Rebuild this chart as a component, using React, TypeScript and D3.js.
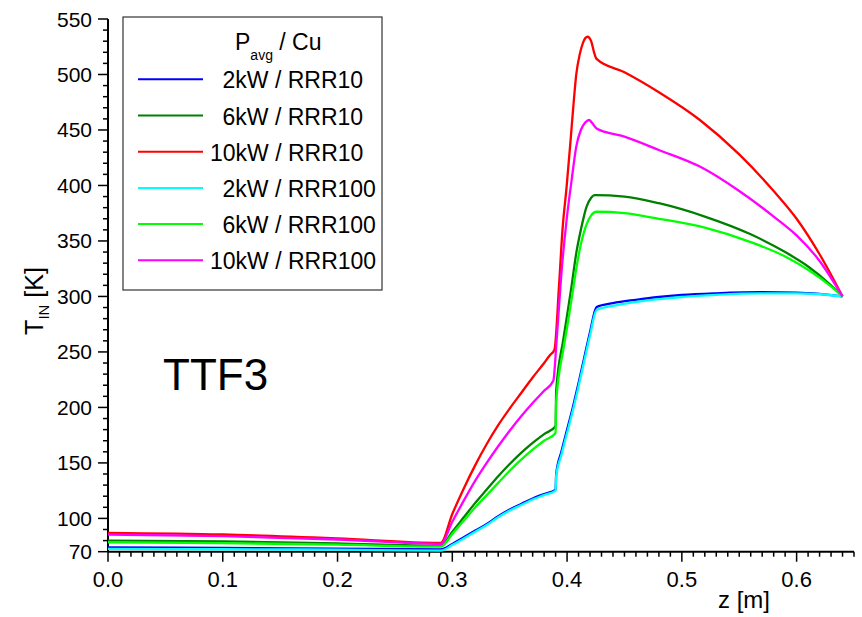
import * as d3 from 'd3';
import React, { useEffect, useRef } from 'react';

// series: [z (m), T_IN (K)]
const rrr10_2kW: [number, number][] = [
  [0, 73.8], [0.1, 73.5], [0.2, 72.8], [0.29, 72], [0.30, 77], [0.31, 83], [0.32, 89], [0.33, 95],
  [0.34, 102], [0.35, 108], [0.36, 113], [0.37, 118], [0.38, 122], [0.39, 126], [0.3905, 140],
  [0.395, 160], [0.40, 180], [0.405, 200], [0.41, 222], [0.415, 245], [0.42, 268], [0.4257, 290.5],
  [0.44, 294], [0.46, 297], [0.48, 299.5], [0.50, 301.3], [0.53, 302.8], [0.57, 303.8], [0.60, 303.5],
  [0.62, 302.3], [0.64, 300],
];
const rrr10_6kW: [number, number][] = [
  [0, 80], [0.1, 79.3], [0.2, 77.5], [0.29, 75.5], [0.30, 88], [0.31, 101], [0.32, 114], [0.33, 126],
  [0.34, 138], [0.35, 149], [0.36, 159], [0.37, 168], [0.38, 176], [0.39, 183], [0.3905, 215],
  [0.3967, 261], [0.40, 283], [0.404, 310], [0.408, 339], [0.412, 360], [0.417, 381], [0.421, 389],
  [0.424, 391.3], [0.45, 390], [0.48, 384], [0.52, 372], [0.56, 356], [0.59, 340], [0.61, 327],
  [0.63, 310], [0.64, 300],
];
const rrr10_10kW: [number, number][] = [
  [0, 87], [0.1, 85.5], [0.2, 82], [0.29, 78], [0.30, 104], [0.31, 127], [0.32, 148], [0.33, 167],
  [0.34, 184], [0.35, 199], [0.36, 213], [0.37, 227], [0.38, 240], [0.385, 247], [0.389, 252],
  [0.393, 310], [0.396, 360], [0.3996, 399], [0.403, 440], [0.406, 478], [0.408, 500], [0.411, 518],
  [0.414, 529], [0.4178, 534], [0.421, 530], [0.4235, 520], [0.4257, 514], [0.45, 502], [0.48, 484],
  [0.5157, 459], [0.55, 428], [0.58, 395], [0.60, 370], [0.62, 338], [0.64, 300],
];
const rrr100_2kW: [number, number][] = [
  [0, 72.5], [0.1, 72.2], [0.2, 71.8], [0.29, 71], [0.30, 76], [0.31, 82], [0.32, 88], [0.33, 94],
  [0.34, 101], [0.35, 107], [0.36, 112], [0.37, 117], [0.38, 121], [0.39, 125], [0.3905, 138],
  [0.395, 157], [0.40, 177], [0.405, 197], [0.41, 219], [0.415, 242], [0.42, 265], [0.4257, 287.7],
  [0.44, 291.5], [0.46, 295], [0.48, 297.5], [0.50, 299.5], [0.53, 301.5], [0.57, 302.8], [0.60, 302.8],
  [0.62, 302], [0.64, 300],
];
const rrr100_6kW: [number, number][] = [
  [0, 78.5], [0.1, 77.8], [0.2, 76.3], [0.29, 74.5], [0.30, 86], [0.31, 98], [0.32, 110], [0.33, 121],
  [0.34, 132], [0.35, 143], [0.36, 153], [0.37, 162], [0.38, 170], [0.39, 177], [0.3905, 205],
  [0.3967, 252], [0.40, 272], [0.404, 298], [0.408, 325], [0.412, 347], [0.417, 365], [0.421, 373],
  [0.4257, 376.3], [0.45, 375], [0.48, 370], [0.52, 362], [0.56, 349], [0.59, 336], [0.61, 324],
  [0.63, 309], [0.64, 300],
];
const rrr100_10kW: [number, number][] = [
  [0, 85.5], [0.1, 84], [0.2, 81], [0.29, 77], [0.30, 97], [0.31, 116], [0.32, 134], [0.33, 150],
  [0.34, 165], [0.35, 179], [0.36, 192], [0.37, 204], [0.38, 215], [0.388, 224], [0.391, 262],
  [0.395, 320], [0.3996, 369], [0.404, 405], [0.408, 435], [0.412, 450], [0.416, 457], [0.4193, 459],
  [0.422, 456], [0.4257, 451.4], [0.45, 444], [0.48, 432], [0.5157, 417], [0.55, 395], [0.58, 372],
  [0.60, 355], [0.62, 332], [0.64, 300],
];

const seriesLabels = ['2kW / RRR10', '6kW / RRR10', '10kW / RRR10', '2kW / RRR100', '6kW / RRR100', '10kW / RRR100'];
const seriesColors = ['#0000ff', '#008000', '#ff0000', '#00ffff', '#00ff00', '#ff00ff'];
const seriesData = [rrr10_2kW, rrr10_6kW, rrr10_10kW, rrr100_2kW, rrr100_6kW, rrr100_10kW];

const xTicks = [0, 0.1, 0.2, 0.3, 0.4, 0.5, 0.6];
const yTicks = [70, 100, 150, 200, 250, 300, 350, 400, 450, 500, 550];

const W = 862;
const H = 617;
const FONT = 'Liberation Sans, Arial, sans-serif';

export default function App() {
  const ref = useRef<SVGSVGElement>(null);

  useEffect(() => {
    const svg = d3.select(ref.current);
    svg.selectAll('*').remove();

    const x = d3.scaleLinear().domain([0, 0.65]).range([108, 854]);
    const y = d3.scaleLinear().domain([70, 550]).range([551.7, 19]);

    // minor ticks
    const xMinor = d3.range(0, 0.6501, 0.01);
    const yMinor = d3.range(70, 550.1, 10);

    const axes = svg.append('g').attr('stroke', 'black').attr('stroke-width', 1.5);
    axes.append('line').attr('x1', x(0)).attr('x2', x(0.65)).attr('y1', y(70)).attr('y2', y(70)).attr('stroke-width', 2);
    axes.append('line').attr('x1', x(0)).attr('x2', x(0)).attr('y1', y(70)).attr('y2', y(550)).attr('stroke-width', 2);

    xMinor.forEach(v => {
      const major = xTicks.some(t => Math.abs(t - v) < 1e-6);
      axes.append('line')
        .attr('x1', x(v)).attr('x2', x(v))
        .attr('y1', y(70)).attr('y2', y(70) + (major ? 10 : 5));
    });
    yMinor.forEach(v => {
      const major = yTicks.some(t => Math.abs(t - v) < 1e-6);
      axes.append('line')
        .attr('y1', y(v)).attr('y2', y(v))
        .attr('x1', x(0)).attr('x2', x(0) - (major ? 10 : 5));
    });

    // tick labels
    svg.append('g').selectAll('text').data(xTicks).enter().append('text')
      .attr('x', d => x(d))
      .attr('y', 587)
      .attr('text-anchor', 'middle')
      .attr('font-family', FONT)
      .attr('font-size', 22)
      .text(d => d.toFixed(1));

    svg.append('g').selectAll('text').data(yTicks).enter().append('text')
      .attr('x', 92)
      .attr('y', d => y(d) + 7.5)
      .attr('text-anchor', 'end')
      .attr('font-family', FONT)
      .attr('font-size', 21)
      .text(d => d);

    // axis titles
    svg.append('text')
      .attr('x', 718).attr('y', 608)
      .attr('font-family', FONT).attr('font-size', 24)
      .text('z [m]');

    const yt = svg.append('text')
      .attr('transform', 'translate(43,301) rotate(-90)')
      .attr('text-anchor', 'middle')
      .attr('font-family', FONT).attr('font-size', 25);
    yt.append('tspan').text('T');
    yt.append('tspan').attr('dy', 6).attr('font-size', 15).text('IN');
    yt.append('tspan').attr('dy', -6).text(' [K]');

    svg.append('text')
      .attr('x', 163).attr('y', 390)
      .attr('font-family', FONT).attr('font-size', 44)
      .text('TTF3');

    // curves
    const line = d3.line<[number, number]>()
      .x(d => x(d[0]))
      .y(d => y(d[1]))
      .curve(d3.curveMonotoneX);

    seriesData.forEach((s, i) => {
      svg.append('path')
        .attr('d', line(s))
        .attr('fill', 'none')
        .attr('stroke', seriesColors[i])
        .attr('stroke-width', 2.3)
        .attr('stroke-linejoin', 'round');
    });

    // legend
    const legend = svg.append('g');
    legend.append('rect')
      .attr('x', 123).attr('y', 17).attr('width', 259).attr('height', 273)
      .attr('fill', 'white').attr('stroke', '#333').attr('stroke-width', 1.2);

    const title = legend.append('text')
      .attr('x', 235).attr('y', 50)
      .attr('font-family', FONT).attr('font-size', 23);
    title.append('tspan').text('P');
    title.append('tspan').attr('dy', 10).attr('font-size', 14).text('avg');
    title.append('tspan').attr('dy', -10).text(' / Cu');

    seriesLabels.forEach((lab, i) => {
      const ly = 79.3 + i * 36.2;
      legend.append('line')
        .attr('x1', 138).attr('x2', 203).attr('y1', ly).attr('y2', ly)
        .attr('stroke', seriesColors[i]).attr('stroke-width', 2);
      legend.append('text')
        .attr('x', lab.startsWith('10') ? 210 : 222.5)
        .attr('y', ly + 9)
        .attr('font-family', FONT).attr('font-size', 23)
        .text(lab);
    });
  }, []);

  return (
    <svg ref={ref} width={W} height={H}
      style={{ position: 'absolute', left: 0, top: 0, background: 'white' }} />
  );
}
